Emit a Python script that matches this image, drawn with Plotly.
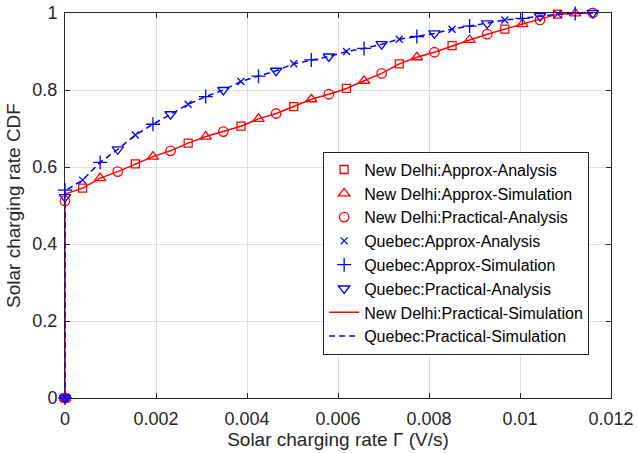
import plotly.graph_objects as go

# Charging-rate grid (V/s) shared by both locations
rate_grid = [0.0, 0.000387, 0.000773, 0.00116, 0.001547, 0.001933, 0.00232, 0.002707,
             0.003093, 0.00348, 0.003867, 0.004253, 0.00464, 0.005027, 0.005413, 0.0058,
             0.006187, 0.006573, 0.00696, 0.007347, 0.007733, 0.00812, 0.008507, 0.008893,
             0.00928, 0.009667, 0.010053, 0.01044, 0.010827, 0.011213, 0.0116]

# Simulated CDF of the practical model (first value is the point at the origin)
nd_practical_sim = [0.0, 0.53, 0.545, 0.571, 0.588, 0.608, 0.627, 0.642, 0.662, 0.679, 0.692,
                    0.706, 0.725, 0.739, 0.757, 0.776, 0.789, 0.804, 0.824, 0.843, 0.868,
                    0.885, 0.898, 0.915, 0.930, 0.945, 0.958, 0.971, 0.982, 0.997, 0.999, 1.0]
qc_practical_sim = [0.0, 0.538, 0.566, 0.612, 0.646, 0.683, 0.711, 0.737, 0.763, 0.783, 0.800,
                    0.822, 0.836, 0.850, 0.868, 0.878, 0.887, 0.900, 0.908, 0.919, 0.932,
                    0.939, 0.947, 0.958, 0.966, 0.973, 0.982, 0.986, 0.992, 0.997, 0.999, 1.0]

# Marker series: rates and CDF values
rate_a = [0.0] + rate_grid[1::3]
rate_b = [0.0] + rate_grid[2::3]
rate_c = [0.0] + rate_grid[0::3]
rate_b0 = [0.0, 0.0] + rate_grid[2::3]

nd_approx_analysis = [0.0, 0.545, 0.608, 0.662, 0.706, 0.757, 0.804, 0.868, 0.915, 0.958, 0.997]
nd_approx_sim = [0.0, 0.571, 0.627, 0.679, 0.725, 0.776, 0.824, 0.885, 0.930, 0.971, 0.999]
nd_practical_analysis = [0.0, 0.512, 0.588, 0.642, 0.692, 0.739, 0.789, 0.843, 0.898, 0.945, 0.982, 1.0]
qc_approx_analysis = [0.0, 0.566, 0.683, 0.763, 0.822, 0.868, 0.900, 0.932, 0.958, 0.982, 0.997]
qc_approx_sim = [0.0, 0.540, 0.612, 0.711, 0.783, 0.836, 0.878, 0.908, 0.939, 0.966, 0.986, 0.999]
qc_practical_analysis = [0.0, 0.522, 0.646, 0.737, 0.800, 0.850, 0.887, 0.919, 0.947, 0.973, 0.992, 1.0]

x_ticks = [0, 0.002, 0.004, 0.006, 0.008, 0.01, 0.012]
x_tick_text = ["0", "0.002", "0.004", "0.006", "0.008", "0.01", "0.012"]
y_ticks = [0, 0.2, 0.4, 0.6, 0.8, 1]
y_tick_text = ["0", "0.2", "0.4", "0.6", "0.8", "1"]

RED = "#ff0000"
BLUE = "#0000ff"
FONT = "Liberation Sans, Arial, sans-serif"
INK = "#262626"

fig = go.Figure()


def marker_trace(x, y, name, symbol, color, size):
    return go.Scatter(
        x=x, y=y, name=name, mode="markers", cliponaxis=False,
        marker=dict(symbol=symbol, size=size, color=color,
                    line=dict(color=color, width=1.3)),
    )


fig.add_trace(marker_trace(rate_a, nd_approx_analysis, "New Delhi:Approx-Analysis",
                           "square-open", RED, 8))
fig.add_trace(marker_trace(rate_b, nd_approx_sim, "New Delhi:Approx-Simulation",
                           "triangle-up-open", RED, 10))
fig.add_trace(marker_trace(rate_c, nd_practical_analysis, "New Delhi:Practical-Analysis",
                           "circle-open", RED, 9.5))
fig.add_trace(marker_trace(rate_a, qc_approx_analysis, "Quebec:Approx-Analysis",
                           "x-thin-open", BLUE, 7))
fig.add_trace(marker_trace(rate_b0, qc_approx_sim, "Quebec:Approx-Simulation",
                           "cross-thin-open", BLUE, 10))
fig.add_trace(marker_trace(rate_c, qc_practical_analysis, "Quebec:Practical-Analysis",
                           "triangle-down-open", BLUE, 10))

line_rate = [0.0] + rate_grid
fig.add_trace(go.Scatter(
    x=line_rate, y=nd_practical_sim, name="New Delhi:Practical-Simulation",
    mode="lines", cliponaxis=False,
    line=dict(color=RED, width=1.5),
))
fig.add_trace(go.Scatter(
    x=line_rate, y=qc_practical_sim, name="Quebec:Practical-Simulation",
    mode="lines", cliponaxis=False,
    line=dict(color=BLUE, width=1.5, dash="6px,4px"),
))

axis_common = dict(
    showgrid=True, gridcolor="#dedede", gridwidth=1,
    showline=True, linecolor=INK, linewidth=1, mirror="ticks",
    ticks="inside", ticklen=5, tickcolor=INK, zeroline=False,
    tickfont=dict(family=FONT, size=18, color=INK),
    layer="below traces", automargin=False,
)

fig.update_xaxes(
    range=[0, 0.012], tickvals=x_ticks, ticktext=x_tick_text,
    ticklabelstandoff=4,
    title=dict(text="Solar charging rate Γ (V/s)", standoff=4,
               font=dict(family=FONT, size=19, color=INK)),
    **axis_common,
)
fig.update_yaxes(
    range=[0, 1], tickvals=y_ticks, ticktext=y_tick_text,
    ticklabelstandoff=3,
    title=dict(text="Solar charging rate CDF", standoff=6,
               font=dict(family=FONT, size=19, color=INK)),
    **axis_common,
)

fig.update_layout(
    width=637, height=453,
    margin=dict(l=65, r=26, t=13, b=55),
    paper_bgcolor="white", plot_bgcolor="white",
    font=dict(family=FONT, color=INK),
    showlegend=True,
    legend=dict(
        x=0.96, xanchor="right", y=0.64, yanchor="top",
        bgcolor="white", bordercolor=INK, borderwidth=1,
        font=dict(family=FONT, size=16, color="#000000"),
        traceorder="normal",
    ),
)

fig.write_html("out.html")
